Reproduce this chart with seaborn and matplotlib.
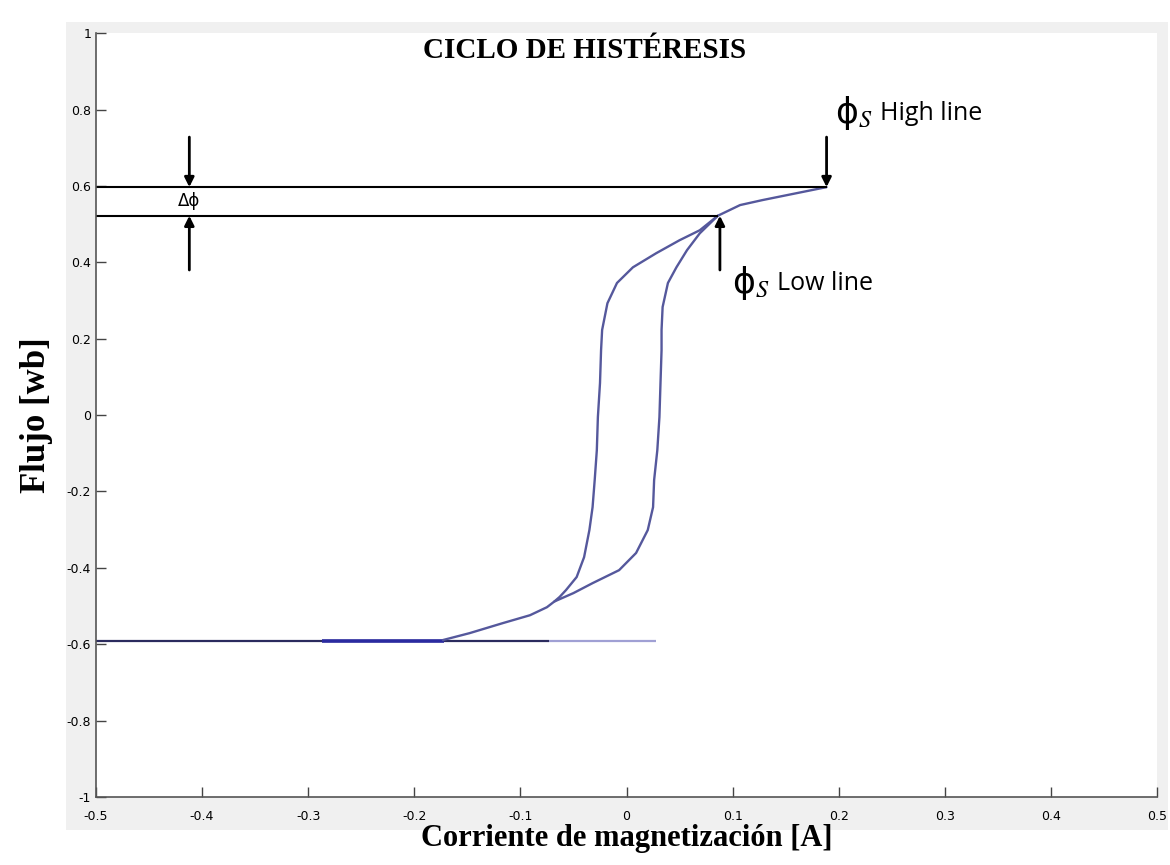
import numpy as np
import pandas as pd
import seaborn as sns
import matplotlib.pyplot as plt
from matplotlib.patches import Rectangle
from matplotlib.ticker import FuncFormatter

cola_inf_x = [-0.173, -0.148, -0.117, -0.091, -0.075, -0.068]
cola_inf_y = [-0.589, -0.571, -0.545, -0.524, -0.503, -0.488]

# rama que sube (derecha)
rama_der_x = [-0.050, -0.032, -0.007, 0.009, 0.020, 0.025, 0.026, 0.029, 0.031, 0.032,
              0.033, 0.033, 0.034, 0.039, 0.047, 0.057, 0.069, 0.086]
rama_der_y = [-0.466, -0.440, -0.406, -0.361, -0.301, -0.241, -0.170, -0.092, -0.005, 0.084,
              0.170, 0.223, 0.283, 0.346, 0.387, 0.432, 0.476, 0.522]

# rama que baja (izquierda)
rama_izq_x = [-0.068, -0.063, -0.057, -0.047, -0.040, -0.035, -0.032, -0.030, -0.028, -0.027,
              -0.025, -0.024, -0.023, -0.018, -0.009, 0.006, 0.028, 0.050, 0.069, 0.086]
rama_izq_y = [-0.488, -0.476, -0.458, -0.424, -0.372, -0.301, -0.241, -0.170, -0.092, -0.005,
              0.084, 0.170, 0.223, 0.293, 0.346, 0.387, 0.424, 0.458, 0.484, 0.522]

cola_sup_x = [0.086, 0.107, 0.128, 0.160, 0.1885]
cola_sup_y = [0.522, 0.550, 0.563, 0.581, 0.597]

# tramo horizontal en saturacion negativa
base_y = -0.592
base_x0 = [-0.5, -0.0726, -0.287]
base_x1 = [-0.0726, 0.028, -0.172]
base_colores = ['#2b2b5e', '#a0a0d4', '#2a2aa0']
base_grosor = [1.6, 1.6, 2.6]

# niveles de saturacion
phi_alto, i_alto = 0.597, 0.1885
phi_bajo, i_bajo = 0.522, 0.086
x_delta = -0.412

x_ticks = np.round(np.arange(-0.5, 0.51, 0.1), 1)
y_ticks = np.round(np.arange(-1, 1.01, 0.2), 1)

sube = pd.DataFrame({'i': cola_inf_x + rama_der_x + cola_sup_x[1:],
                     'phi': cola_inf_y + rama_der_y + cola_sup_y[1:]})
baja = pd.DataFrame({'i': rama_izq_x, 'phi': rama_izq_y})

sns.set_theme(style="white")
plt.rcParams['mathtext.fontset'] = 'stix'
plt.rcParams['text.color'] = 'black'
plt.rcParams['axes.labelcolor'] = 'black'

fig = plt.figure(figsize=(11.7, 8.65), dpi=100)
fig.patches.append(Rectangle((0.056, 0.04), 0.942, 0.935, transform=fig.transFigure,
                             facecolor='#f0f0f0', edgecolor='none', zorder=-10))
ax = fig.add_axes([0.082, 0.0786, 0.907, 0.883])
ax.set_facecolor('white')

for i in range(len(base_x0)):
    ax.hlines(base_y, base_x0[i], base_x1[i], color=base_colores[i], lw=base_grosor[i], zorder=2)

sns.lineplot(data=sube, x='i', y='phi', sort=False, estimator=None, color='#55589c', lw=1.7, ax=ax)
sns.lineplot(data=baja, x='i', y='phi', sort=False, estimator=None, color='#55589c', lw=1.7, ax=ax)

# lineas de saturacion
ax.hlines(phi_alto, -0.5, i_alto, color='black', lw=1.5)
ax.hlines(phi_bajo, -0.5, i_bajo, color='black', lw=1.5)

flecha = dict(arrowstyle='-|>', color='black', lw=2, mutation_scale=14, shrinkA=0, shrinkB=0)
ax.annotate('', xy=(x_delta, phi_alto), xytext=(x_delta, 0.728), arrowprops=flecha)
ax.annotate('', xy=(x_delta, phi_bajo), xytext=(x_delta, 0.38), arrowprops=flecha)
ax.annotate('', xy=(i_alto, phi_alto), xytext=(i_alto, 0.728), arrowprops=flecha)
ax.annotate('', xy=(i_bajo + 0.002, phi_bajo), xytext=(i_bajo + 0.002, 0.38), arrowprops=flecha)

ax.text(x_delta, 0.561, 'Δϕ', ha='center', va='center', fontsize=12, family='DejaVu Sans')
for xt, yt, etiqueta in [(0.196, 0.79, 'High line'), (0.099, 0.345, 'Low line')]:
    ax.text(xt, yt, 'ϕ$_S$', ha='left', va='center', fontsize=25, family='DejaVu Sans')
    ax.text(xt + 0.043, yt, etiqueta, ha='left', va='center', fontsize=18, family='Open Sans')

ax.text(-0.04, 0.955, 'CICLO DE HISTÉRESIS', ha='center', va='center', fontsize=21,
        fontweight='bold', family='Liberation Serif')

ax.set_xlim(-0.5, 0.5)
ax.set_ylim(-1, 1)
ax.set_xticks(x_ticks)
ax.set_yticks(y_ticks)
fmt = FuncFormatter(lambda v, p: '%g' % (round(v, 1) + 0.0))
ax.xaxis.set_major_formatter(fmt)
ax.yaxis.set_major_formatter(fmt)
ax.tick_params(direction='in', length=7, width=1, colors='#444444', labelcolor='black',
               labelsize=9, bottom=True, left=True)
ax.tick_params(axis='x', pad=9)
for lado in ['top', 'right']:
    ax.spines[lado].set_visible(False)
for lado in ['left', 'bottom']:
    ax.spines[lado].set_color('#555555')
    ax.spines[lado].set_linewidth(1.2)

ax.set_xlabel('Corriente de magnetización [A]', fontsize=22, fontweight='bold',
              family='Liberation Serif', labelpad=1, color='black')
ax.set_ylabel('Flujo [wb]', fontsize=25, fontweight='bold', family='Liberation Serif',
              labelpad=10, color='black')

fig.savefig('out.png', dpi=100)
